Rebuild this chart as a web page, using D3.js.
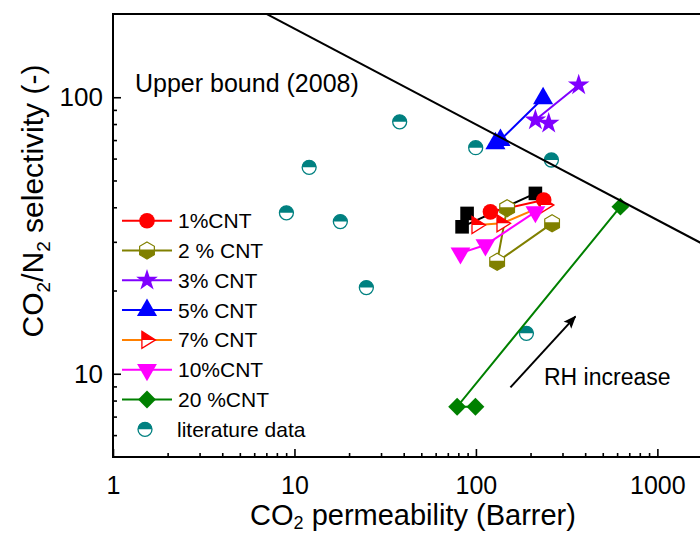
<!DOCTYPE html>
<html>
<head>
<meta charset="utf-8">
<script src="https://cdn.jsdelivr.net/npm/d3@7"></script>
<style>
body{margin:0;background:#fff;}
svg{display:block;font-family:"Liberation Sans",Arial,sans-serif;}
</style>
</head>
<body>
<script>
// CO2 permeability (Barrer) / CO2/N2 selectivity
var perm0 = [89.4, 83.9, 212.7],  sel0 = [38.0, 34.0, 44.9];   // black squares (not in legend)
var perm1 = [120.2, 236.4],       sel1 = [38.5, 42.5];
var perm2 = [148.6, 130.9, 262.9], sel2 = [39.7, 25.4, 35.0];
var perm3 = [251.8, 212.7, 368.5], sel3 = [80.5, 82.7, 110.7];
var perm5 = [128.1, 136.5, 234.5], sel5 = [68.1, 70.0, 99.1];
var perm7 = [101.5, 139.4, 241.5], sel7 = [34.5, 35.0, 40.8];
var perm10 = [82.2, 112.8, 212.7], sel10 = [27.3, 29.2, 38.5];
var perm20 = [99.4, 78.8, 625.5],  sel20 = [7.60, 7.60, 40.2];

var permLit = [38.0, 12.05, 9.03, 17.9, 24.9, 99.7, 260.6, 189.8];
var selLit  = [81.5, 55.8, 38.2, 35.5, 20.5, 65.7, 59.3, 14.0];

// Robeson upper bound (2008), end points
var boundPerm = [5, 2000];
var boundSel = [225, 28.3];

// RH arrow end points
var arrowPerm = [155, 353];
var arrowSel = [8.93, 16.1];

var xMajor = [1, 10, 100, 1000];
var yMajor = [10, 100];

var legendNames = ['1%CNT', '2 % CNT', '3% CNT', '5% CNT', '7% CNT', '10%CNT', '20 %CNT'];

var series = [
    {name: null, perm: perm0, sel: sel0, color: '#000000', mk: 'square'},
    {name: legendNames[0], perm: perm1, sel: sel1, color: '#ff0000', mk: 'circle'},
    {name: legendNames[1], perm: perm2, sel: sel2, color: '#808000', mk: 'hex'},
    {name: legendNames[2], perm: perm3, sel: sel3, color: '#8000ff', mk: 'star'},
    {name: legendNames[3], perm: perm5, sel: sel5, color: '#0000ff', mk: 'tri'},
    {name: legendNames[4], perm: perm7, sel: sel7, color: '#ff8000', mk: 'right'},
    {name: legendNames[5], perm: perm10, sel: sel10, color: '#ff00ff', mk: 'down'},
    {name: legendNames[6], perm: perm20, sel: sel20, color: '#008000', mk: 'diamond'}
];

var W = 700, H = 534;
var pLeft = 113, pRight = 712, pTop = 14, pBottom = 457;

var x = d3.scaleLog().domain([1, 2000]).range([pLeft, pRight]);
var y = d3.scaleLog().domain([5, 200]).range([pBottom, pTop]);

var svg = d3.select('body').append('svg')
    .attr('width', W).attr('height', H);

svg.append('clipPath').attr('id', 'plot')
    .append('rect').attr('x', pLeft).attr('y', pTop)
    .attr('width', pRight - pLeft).attr('height', pBottom - pTop);

// draws one marker at the origin of g
function marker(g, type, color){
    if(type == 'circle'){
        g.append('circle').attr('r', 7.8).attr('fill', color);
    } else if(type == 'square'){
        g.append('path').attr('d', d3.symbol(d3.symbolSquare, 185)()).attr('fill', color);
    } else if(type == 'star'){
        g.append('path').attr('d', d3.symbol(d3.symbolStar, 145)()).attr('fill', color);
    } else if(type == 'tri'){
        g.append('path').attr('d', d3.symbol(d3.symbolTriangle, 175)()).attr('fill', color);
    } else if(type == 'down'){
        g.append('path').attr('d', d3.symbol(d3.symbolTriangle, 170)())
            .attr('transform', 'rotate(180)').attr('fill', color);
    } else if(type == 'diamond'){
        g.append('path').attr('d', d3.symbol(d3.symbolSquare, 160)())
            .attr('transform', 'rotate(45)').attr('fill', color);
    } else if(type == 'hex'){
        var r = 8.5, c = r * 0.866;
        var hex = 'M0,' + (-r) + 'L' + c + ',' + (-r/2) + 'L' + c + ',' + (r/2) + 'L0,' + r +
                'L' + (-c) + ',' + (r/2) + 'L' + (-c) + ',' + (-r/2) + 'Z';
        g.append('path').attr('d', hex).attr('fill', '#fff');
        g.append('path')
            .attr('d', 'M' + (-c) + ',-1L' + c + ',-1L' + c + ',' + (r/2) + 'L0,' + r + 'L' + (-c) + ',' + (r/2) + 'Z')
            .attr('fill', color);
        g.append('path').attr('d', hex)
            .attr('fill', 'none').attr('stroke', color).attr('stroke-width', 1.2);
    } else if(type == 'right'){
        var s = 8.5;
        var tri = 'M' + (-0.6*s) + ',' + (-s) + 'L' + s + ',0L' + (-0.6*s) + ',' + s + 'Z';
        g.append('path').attr('d', tri).attr('fill', '#fff');
        g.append('path').attr('d', 'M' + (-0.6*s) + ',' + (-s) + 'L' + s + ',0L' + (-0.6*s) + ',0Z')
            .attr('fill', '#ff0000');
        g.append('path').attr('d', tri)
            .attr('fill', 'none').attr('stroke', '#ff0000').attr('stroke-width', 1.3);
    } else if(type == 'lit'){
        var rr = 7;
        g.append('circle').attr('r', rr).attr('fill', '#fff');
        g.append('path').attr('d', 'M' + (-rr) + ',0A' + rr + ',' + rr + ' 0 0 1 ' + rr + ',0Z')
            .attr('fill', '#008080');
        g.append('circle').attr('r', rr).attr('fill', 'none')
            .attr('stroke', '#008080').attr('stroke-width', 1.3);
    }
}

// literature data
permLit.forEach(function(p, i){
    var g = svg.append('g').attr('transform', 'translate(' + x(p) + ',' + y(selLit[i]) + ')');
    marker(g, 'lit');
});

var line = d3.line().x(function(d){ return x(d[0]); }).y(function(d){ return y(d[1]); });

// series lines then markers
series.forEach(function(s){
    var pts = s.perm.map(function(p, i){ return [p, s.sel[i]]; });
    svg.append('path').attr('d', line(pts))
        .attr('fill', 'none').attr('stroke', s.color).attr('stroke-width', 2);
});
series.forEach(function(s){
    s.perm.forEach(function(p, i){
        var g = svg.append('g').attr('transform', 'translate(' + x(p) + ',' + y(s.sel[i]) + ')');
        marker(g, s.mk, s.mk == 'right' ? '#ff0000' : s.color);
    });
});

// upper bound
svg.append('path')
    .attr('d', line(boundPerm.map(function(p, i){ return [p, boundSel[i]]; })))
    .attr('clip-path', 'url(#plot)')
    .attr('fill', 'none').attr('stroke', '#000').attr('stroke-width', 2);

// arrow
svg.append('defs').append('marker')
    .attr('id', 'head').attr('viewBox', '0 0 10 10')
    .attr('refX', 9).attr('refY', 5)
    .attr('markerWidth', 13).attr('markerHeight', 13)
    .attr('markerUnits', 'userSpaceOnUse')
    .attr('orient', 'auto')
    .append('path').attr('d', 'M0,1L10,5L0,9L2,5Z').attr('fill', '#000');
svg.append('line')
    .attr('x1', x(arrowPerm[0])).attr('y1', y(arrowSel[0]))
    .attr('x2', x(arrowPerm[1])).attr('y2', y(arrowSel[1]))
    .attr('stroke', '#000').attr('stroke-width', 2)
    .attr('marker-end', 'url(#head)');

// axes
var minorX = x.ticks().filter(function(d){ return xMajor.indexOf(d) < 0; });
var minorY = y.ticks().filter(function(d){ return yMajor.indexOf(d) < 0 && d > 5 && d < 200; });

svg.append('g').attr('class', 'xmaj').attr('transform', 'translate(0,' + pBottom + ')')
    .call(d3.axisBottom(x).tickValues(xMajor).tickSizeInner(-8).tickSizeOuter(0)
        .tickPadding(19).tickFormat(d3.format('d')));
svg.append('g').attr('transform', 'translate(0,' + pBottom + ')')
    .call(d3.axisBottom(x).tickValues(minorX).tickSizeInner(-4).tickSizeOuter(0).tickFormat(''));
svg.append('g').attr('transform', 'translate(' + pLeft + ',0)')
    .call(d3.axisLeft(y).tickValues(yMajor).tickSizeInner(-8).tickSizeOuter(0)
        .tickPadding(10).tickFormat(d3.format('d')));
svg.append('g').attr('transform', 'translate(' + pLeft + ',0)')
    .call(d3.axisLeft(y).tickValues(minorY).tickSizeInner(-4).tickSizeOuter(0).tickFormat(''));

svg.selectAll('.domain').remove();
svg.selectAll('.tick line').attr('stroke', '#000').attr('stroke-width', 1.6);
svg.selectAll('.tick text').attr('font-size', 26).attr('font-family', '"Liberation Sans",Arial,sans-serif')
    .attr('fill', '#000');
svg.selectAll('.xmaj .tick text').attr('font-size', 25);

// frame
svg.append('path')
    .attr('d', 'M' + pRight + ',' + pTop + 'H' + pLeft + 'V' + pBottom + 'H' + pRight)
    .attr('fill', 'none').attr('stroke', '#000').attr('stroke-width', 2);

// axis titles
var xt = svg.append('text').attr('x', 413).attr('y', 525)
    .attr('text-anchor', 'middle').attr('font-size', 29);
xt.append('tspan').text('CO');
xt.append('tspan').text('2').attr('font-size', 18).attr('dy', 4);
xt.append('tspan').text(' permeability (Barrer)').attr('dy', -4);

var yt = svg.append('text').attr('transform', 'translate(43,201) rotate(-90)')
    .attr('text-anchor', 'middle').attr('font-size', 30);
yt.append('tspan').text('CO');
yt.append('tspan').text('2').attr('font-size', 19).attr('dy', 7);
yt.append('tspan').text('/N').attr('dy', -7);
yt.append('tspan').text('2').attr('font-size', 19).attr('dy', 7);
yt.append('tspan').text(' selectivity (-)').attr('dy', -7);

// annotations
svg.append('text').attr('x', 135).attr('y', 92).attr('font-size', 25).text('Upper bound (2008)');
svg.append('text').attr('x', 544).attr('y', 385).attr('font-size', 23).text('RH increase');

// legend
var legendSeries = series.filter(function(s){ return s.name; });
legendSeries.forEach(function(s, i){
    var cy = 220.7 + i * 29.8;
    svg.append('line').attr('x1', 122).attr('x2', 172).attr('y1', cy).attr('y2', cy)
        .attr('stroke', s.color).attr('stroke-width', 2);
    var g = svg.append('g').attr('transform', 'translate(147,' + cy + ')');
    marker(g, s.mk, s.mk == 'right' ? '#ff0000' : s.color);
    svg.append('text').attr('x', 178).attr('y', cy + 7.5).attr('font-size', 21).text(s.name);
});
var litY = 220.7 + legendSeries.length * 29.8;
marker(svg.append('g').attr('transform', 'translate(145,' + litY + ')'), 'lit');
svg.append('text').attr('x', 177).attr('y', litY + 7.5).attr('font-size', 21).text('literature data');
</script>
</body>
</html>
